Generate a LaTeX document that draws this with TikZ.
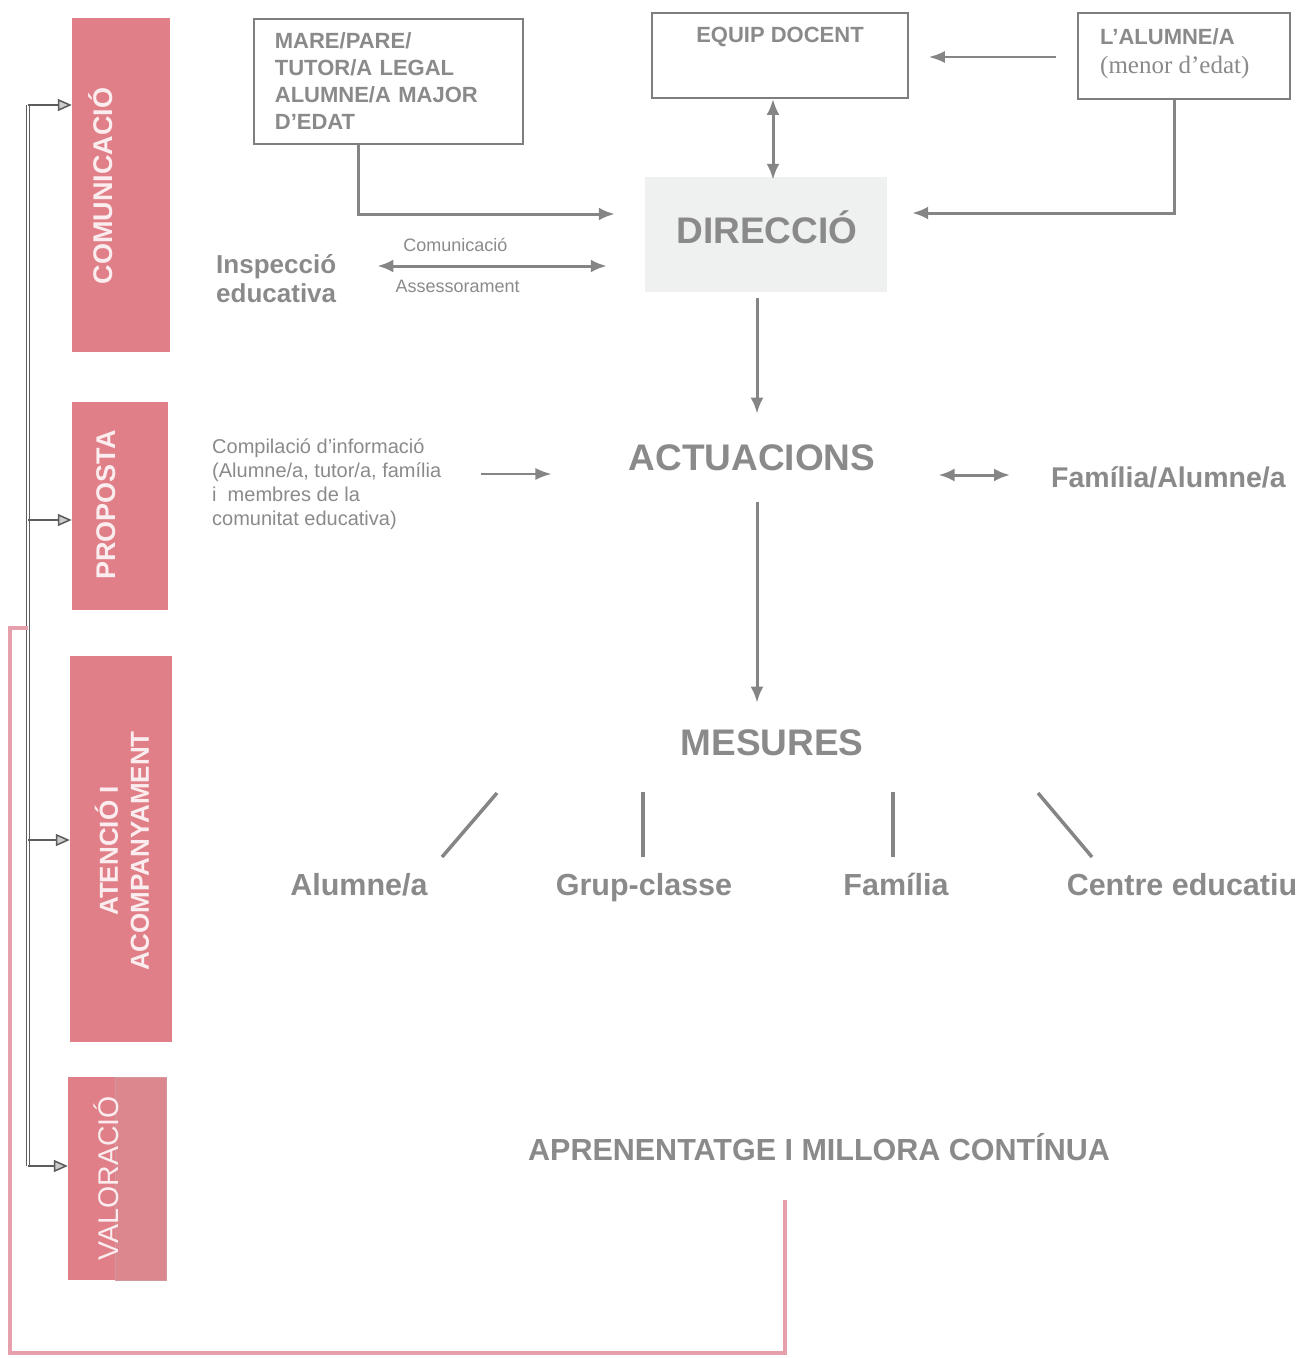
\documentclass[tikz,border=0pt]{standalone}
\usepackage{fontspec}
\setmainfont{Liberation Sans}
\newfontfamily\serifcos{Liberation Serif}
\usetikzlibrary{arrows.meta,positioning}

\definecolor{txtgray}{HTML}{8A8A8A}
\definecolor{linegray}{HTML}{858585}
\definecolor{boxgray}{HTML}{7E7E7E}
\definecolor{treegray}{HTML}{5C5C5C}
\definecolor{rosa}{HTML}{E07F87}
\definecolor{rosafosc}{HTML}{DC878D}
\definecolor{rosaline}{HTML}{E6A0AB}
\definecolor{rosatext}{HTML}{FBEDEF}
\definecolor{dirfill}{HTML}{EFF1F1}

\begin{document}
\begin{tikzpicture}[x=1pt,y=-1pt,
  conn/.style={linegray,line width=3pt,-{Latex[length=16pt,width=13pt]}},
  dconn/.style={linegray,line width=3pt,{Latex[length=16pt,width=13pt]}-{Latex[length=16pt,width=13pt]}},
  thinconn/.style={linegray,line width=2pt,-{Latex[length=16pt,width=12pt]}},
  branch/.style={linegray,line width=3.5pt},
  tree/.style={treegray,line width=1.5pt,-{Triangle[length=14pt,width=12pt,fill=gray!40]}},
  bus/.style={treegray,line width=1pt,double=white,double distance=1.8pt},
  loop/.style={rosaline,line width=3.5pt},
  greybox/.style={draw=boxgray,line width=1.8pt,fill=white,inner sep=0pt},
  boxtext/.style={text=txtgray,font=\fontsize{22}{27}\selectfont\bfseries},
  pinkbox/.style={fill=rosa,inner sep=0pt},
  pinklabel/.style={rotate=90,text=rosatext,inner sep=0pt,align=center,
    font=\fontsize{27}{31}\selectfont\bfseries},
  title/.style={text=txtgray,inner sep=0pt,font=\fontsize{37}{42}\selectfont\bfseries},
  sub/.style={text=txtgray,inner sep=0pt,anchor=base,font=\fontsize{30.5}{35}\selectfont\bfseries},
  lbl/.style={text=txtgray,inner sep=0pt,font=\fontsize{18}{21}\selectfont}]
  \useasboundingbox (0,0) rectangle (1303,1358);

  % franja lateral
  \node[pinkbox,minimum width=98pt,minimum height=334pt] (comm) at (121,185) {};
  \node[pinklabel] (commtxt) at (101,186) {COMUNICACIÓ};
  \node[pinkbox,minimum width=96pt,minimum height=208pt] (prop) at (120,506) {};
  \node[pinklabel] (proptxt) at (106,505) {PROPOSTA};
  \node[pinkbox,minimum width=102pt,minimum height=386pt] (aten) at (121,849) {};
  \node[pinklabel,font=\fontsize{26}{31}\selectfont\bfseries] (atentxt) at (122,851) {ATENCIÓ I\\ACOMPANYAMENT};
  \node[pinkbox,fill=rosafosc,draw=rosa!85!black!70,line width=0.6pt,minimum width=51pt,minimum height=203pt] (valb) at (140.5,1178.5) {};
  \node[pinkbox,minimum width=47pt,minimum height=203pt] (val) at (91.5,1178.5) {};
  \node[pinklabel,font=\fontsize{28.5}{33}\selectfont] (valtxt) at (106,1178) {VALORACIÓ};

  \coordinate (bustop) at (28,105);
  \coordinate (b2) at (28,520);
  \coordinate (b3) at (28,628);
  \coordinate (b4) at (28,840);
  \coordinate (busbot) at (28,1166);
  \draw[bus] (bustop) -- (busbot);
  \draw[tree] (bustop) -- (bustop -| comm.west);
  \draw[tree] (b2) -- (b2 -| prop.west);
  \draw[tree] (b4) -- (b4 -| aten.west);
  \draw[tree] (busbot) -- (busbot -| val.west);

  % caixes de dalt
  \node[greybox,boxtext,anchor=north west,minimum width=269pt,minimum height=125pt,
    text width=227pt,inner xsep=21pt,align=left] (mare) at (253,18)
    {MARE/PARE/\\TUTOR/A LEGAL\\ALUMNE/A MAJOR\\D’EDAT};
  \node[greybox,minimum width=256pt,minimum height=85pt] (equip) at (780,55.5) {};
  \node[boxtext,inner sep=0pt] (equiptxt) at (780,37) {EQUIP DOCENT};
  \node[greybox,minimum width=212pt,minimum height=86pt] (alum) at (1184,56) {};
  \node[boxtext,inner sep=0pt,anchor=west] (alumtxt) at (1100,37) {L’ALUMNE/A};
  \node[text=txtgray,inner sep=0pt,anchor=west,font=\serifcos\fontsize{25}{29}\selectfont] (menor) at (1100,67) {(menor d’edat)};

  \node[fill=dirfill,minimum width=242pt,minimum height=115pt] (dir) at (766,234.5) {};
  \node[title] (dirtxt) at (767,227) {DIRECCIÓ};

  \node[text=txtgray,inner sep=0pt,anchor=west,align=left,font=\fontsize{26}{29}\selectfont\bfseries] (insp) at (216,278.5) {Inspecció\\educativa};

  \draw[conn] ([xshift=-29.5pt]mare.south) |- ([xshift=-30pt,yshift=20.5pt]dir.west);
  \draw[dconn] ([xshift=-7pt]equip.south) -- ([xshift=-7pt,yshift=-3pt]equip.south |- dir.north);
  \draw[thinconn] ([xshift=-21pt,yshift=-1pt]alum.west) -- ([xshift=20pt,yshift=-1pt]alum.west -| equip.east);
  \draw[conn] ([xshift=-10pt]alum.south) |- ([xshift=25pt,yshift=21.5pt]dir.east);
  \draw[dconn] ([xshift=41pt,yshift=12.5pt]insp.east) -- ([xshift=-38pt,yshift=12.5pt]insp.east -| dir.west)
    node[lbl,pos=.34,above=13pt] (comlbl) {Comunicació}
    node[lbl,pos=.35,below=13pt] (asslbl) {Assessorament};

  % centre
  \node[title] (act) at (752,458) {ACTUACIONS};
  \node[text=txtgray,inner sep=0pt,anchor=west,align=left,font=\fontsize{20}{24}\selectfont] (comp) at (212,484)
    {Compilació d’informació\\(Alumne/a, tutor/a, família\\i \ membres de la\\comunitat educativa)};
  \node[text=txtgray,inner sep=0pt,anchor=west,font=\fontsize{28.5}{33}\selectfont\bfseries] (fam) at (1051,477) {Família/Alumne/a};
  \node[title] (mes) at (772,743) {MESURES};

  \draw[conn,shorten >=31pt] ([xshift=-9pt,yshift=-6pt]dir.south) -- ([xshift=-9pt]dir.south |- act.north);
  \draw[conn,shorten <=31pt,shorten >=27pt] ([xshift=5pt]act.south) -- ([xshift=5pt]act.south |- mes.north);
  \draw[thinconn] ([xshift=40pt,yshift=10pt]comp.east) -- ([xshift=-77pt,yshift=10pt]comp.east -| act.west);
  \draw[dconn] ([xshift=63pt,yshift=2pt]fam.west -| act.east) -- ([xshift=-41pt,yshift=2pt]fam.west);

  % mesures
  \node[sub] (alu) at (359,895) {Alumne/a};
  \node[sub] (grup) at (644,895) {Grup-classe};
  \node[sub] (famb) at (896,895) {Família};
  \node[sub] (cent) at (1182,895) {Centre educatiu};
  \draw[branch] ([xshift=-275pt,yshift=-50pt]mes.center) -- ([xshift=83pt,yshift=38pt]alu.base);
  \draw[branch] ([xshift=-129pt,yshift=-49pt]mes.center) -- ([xshift=-1pt,yshift=38pt]grup.base);
  \draw[branch] ([xshift=121pt,yshift=-49pt]mes.center) -- ([xshift=-3pt,yshift=38pt]famb.base);
  \draw[branch] ([xshift=266pt,yshift=-50pt]mes.center) -- ([xshift=-90pt,yshift=38pt]cent.base);

  \node[sub] (apren) at (819,1160) {APRENENTATGE I MILLORA CONTÍNUA};

  \coordinate (loopstart) at (785,1200);
  \coordinate (loopcorner) at (10,1353);
  \draw[loop] (loopstart) |- (loopcorner) |- (b3);
\end{tikzpicture}
\end{document}
